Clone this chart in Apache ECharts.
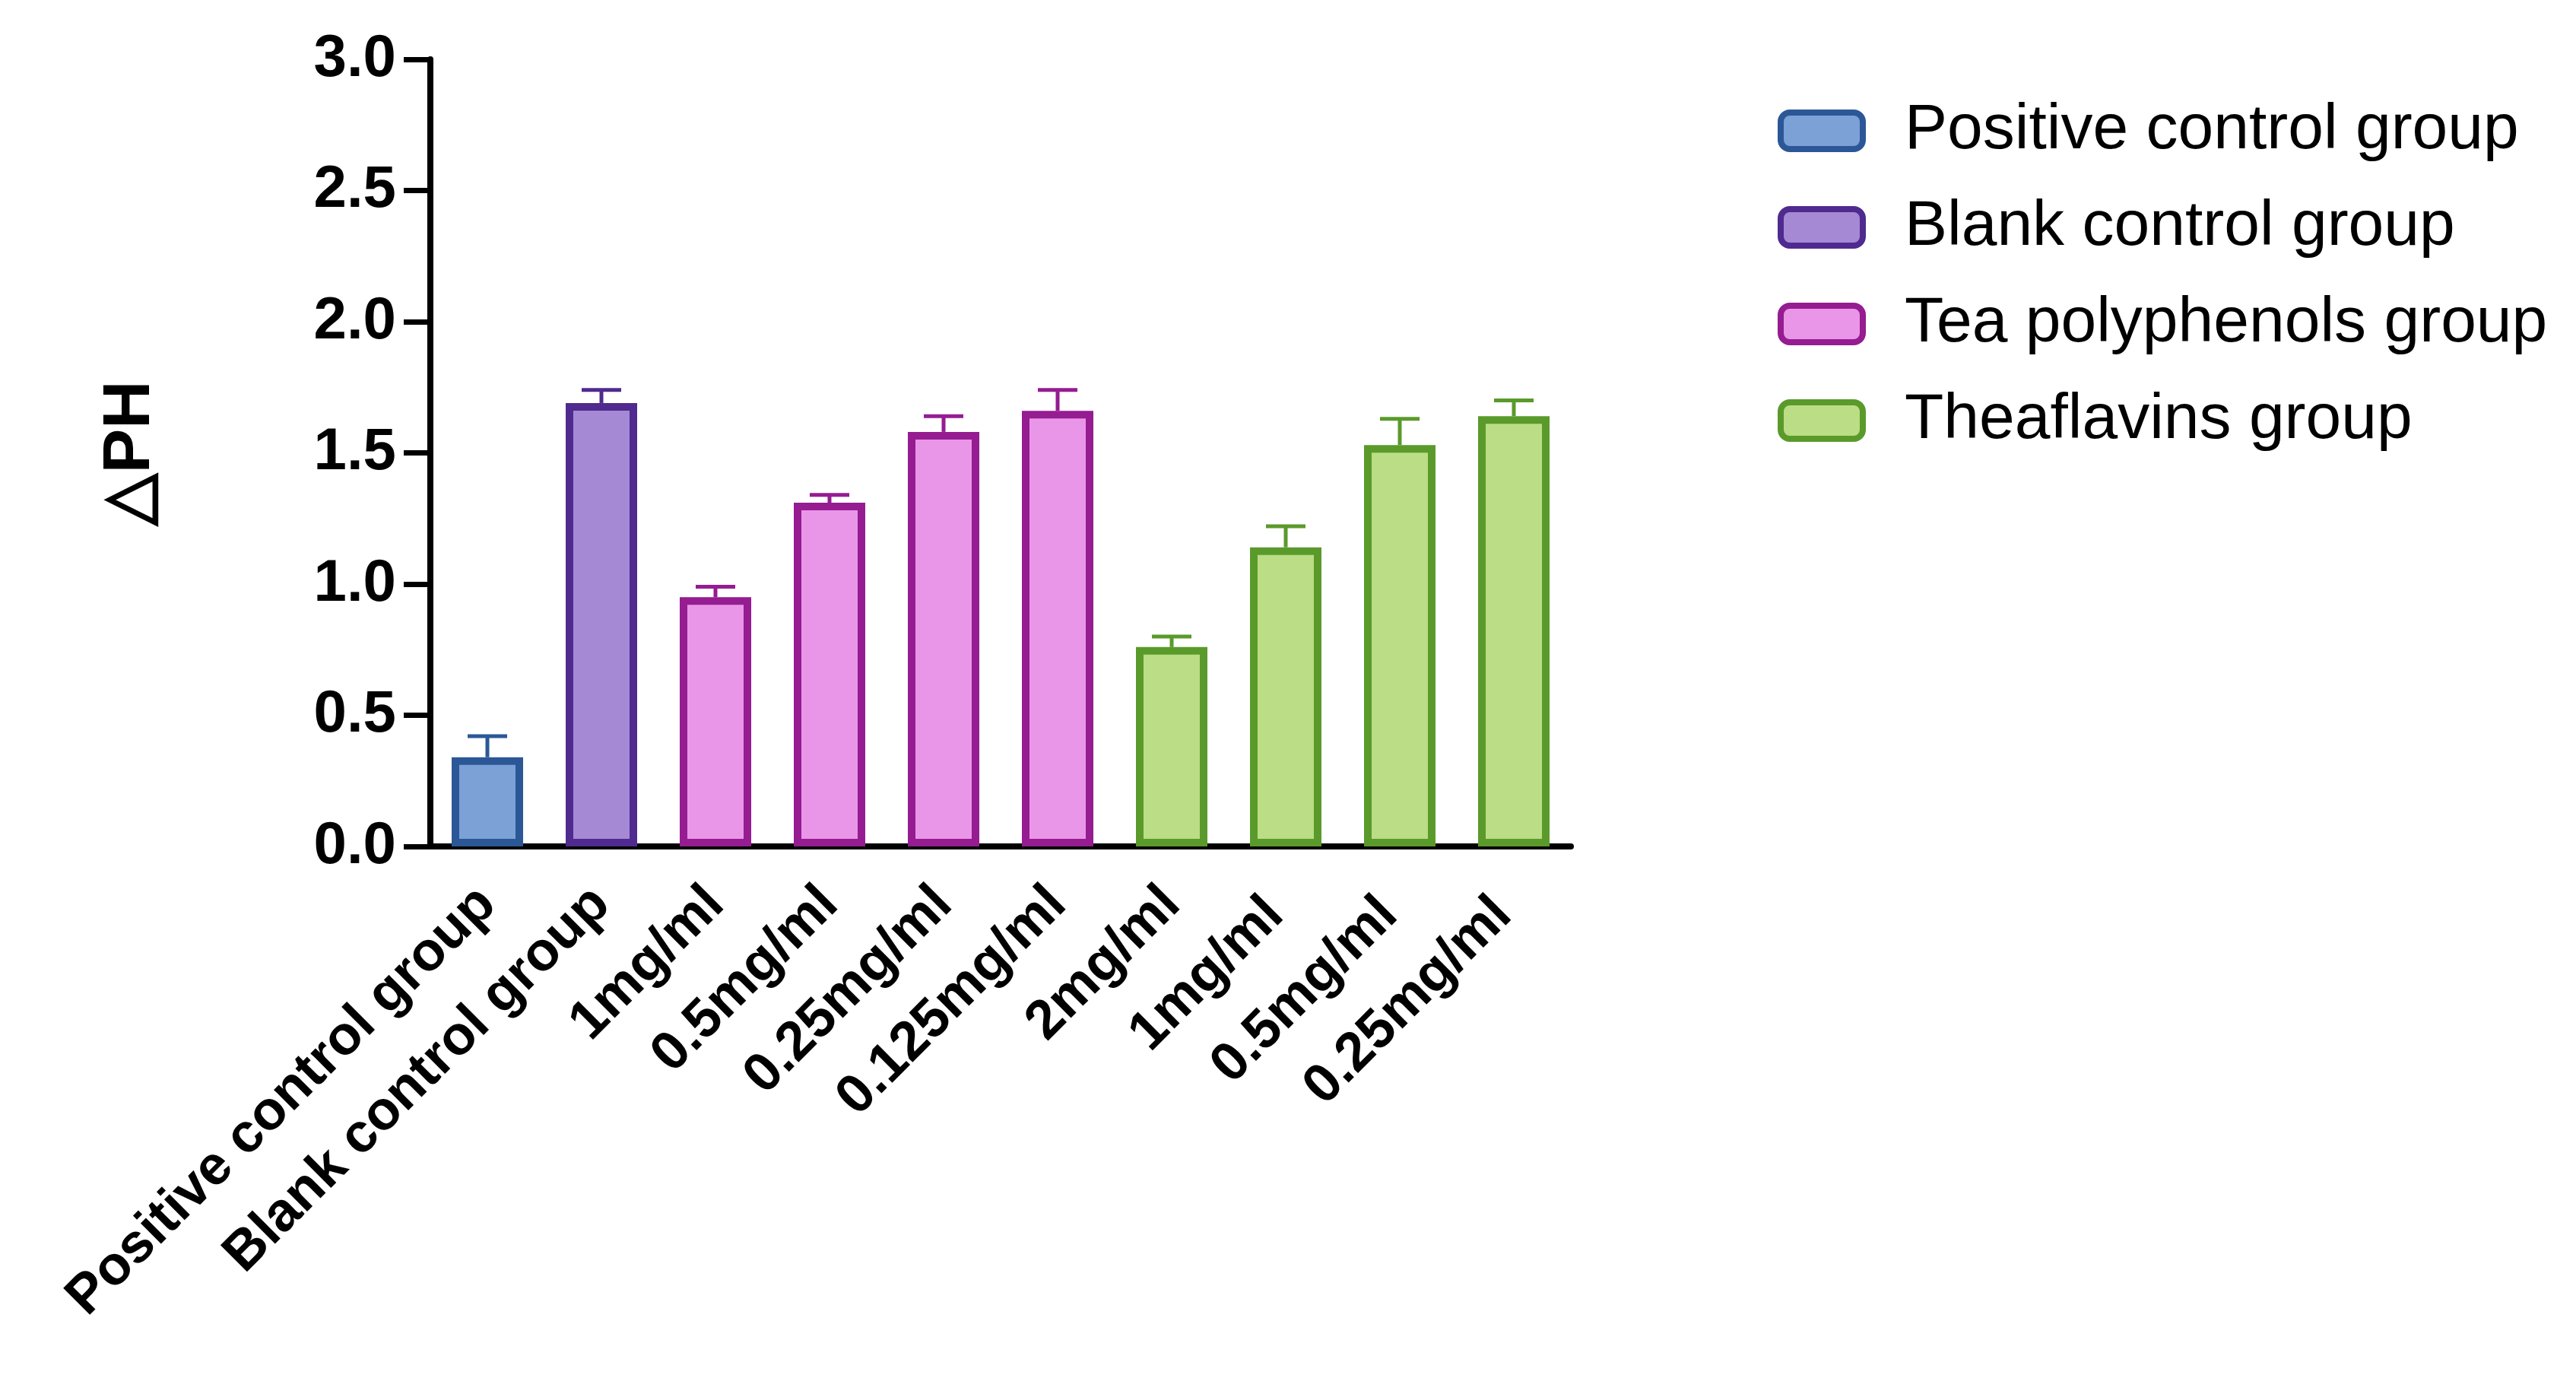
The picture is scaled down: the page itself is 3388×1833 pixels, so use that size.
<!DOCTYPE html><html><head><meta charset="utf-8">
<script src="https://cdn.jsdelivr.net/npm/echarts@6/dist/echarts.min.js"></script>
<style>html,body{margin:0;background:#fff}#c{width:3388px;height:1833px}</style></head>
<body><div id="c"></div><script>
const categories=["Positive control group","Blank control group","1mg/ml","0.5mg/ml","0.25mg/ml","0.125mg/ml","2mg/ml","1mg/ml ","0.5mg/ml ","0.25mg/ml "];
const groupNames=["Positive control group","Blank control group","Tea polyphenols group","Theaflavins group"];
const values=[0.34,1.69,0.95,1.31,1.58,1.66,0.76,1.14,1.53,1.64];
const errTops=[0.42,1.74,0.99,1.34,1.64,1.74,0.80,1.22,1.63,1.70];
const groupOf=[0,1,2,2,2,2,3,3,3,3];
const fills=["#7BA1D6","#A689D4","#EA96E8","#BBDD85"];
const borders=["#2B5797","#4F2A8F","#951C91","#5A9A2B"];
const yTicks=[0,0.5,1,1.5,2,2.5,3];
const series=groupNames.map((n,g)=>({name:n,type:'bar',stack:'s',barWidth:94,
 data:values.map((v,i)=>groupOf[i]===g?v:null),
 itemStyle:{color:fills[g],borderColor:borders[g],borderWidth:10}}));
series.push({type:'custom',z:1,data:values.map((v,i)=>[i,v,errTops[i]]),
 renderItem:(p,api)=>{const i=api.value(0);const a=api.coord([i,api.value(1)]);const b=api.coord([i,api.value(2)]);
  const st={stroke:borders[groupOf[i]],lineWidth:5};
  return {type:'group',children:[{type:'line',shape:{x1:a[0],y1:a[1],x2:b[0],y2:b[1]},style:st},
   {type:'line',shape:{x1:b[0]-26,y1:b[1],x2:b[0]+26,y2:b[1]},style:st}]};}});
echarts.init(document.getElementById('c')).setOption({
 animation:false,
 grid:{left:566,top:78,width:1500,height:1035},
 legend:{data:groupNames,orient:'vertical',left:2333,top:125,itemWidth:108,itemHeight:48,itemGap:43,
  itemStyle:{borderWidth:8},
  textStyle:{fontSize:84,fontFamily:'Arial, Liberation Sans',color:'#000',padding:[0,0,0,50]}},
 xAxis:{type:'category',data:categories,
  axisLine:{lineStyle:{color:'#000',width:8}},axisTick:{length:50,lineStyle:{color:'#000',width:7},alignWithLabel:true},
  axisLabel:{interval:0,rotate:45,fontSize:72,fontWeight:'bold',fontFamily:'Arial, Liberation Sans',color:'#000',margin:65}},
 yAxis:{type:'value',min:0,max:3,interval:0.5,name:'\u25B3PH',nameLocation:'middle',nameGap:350,
  nameTextStyle:{fontSize:88,fontWeight:'bold',fontFamily:'Arial, Liberation Sans',color:'#000'},
  splitLine:{show:false},axisLine:{show:true,lineStyle:{color:'#000',width:8}},
  axisTick:{show:true,length:35,lineStyle:{color:'#000',width:7}},
  axisLabel:{fontSize:78,fontWeight:'bold',fontFamily:'Arial, Liberation Sans',color:'#000',margin:45,
   formatter:v=>yTicks.includes(v)?v.toFixed(1):''}},
 series});
</script></body></html>
